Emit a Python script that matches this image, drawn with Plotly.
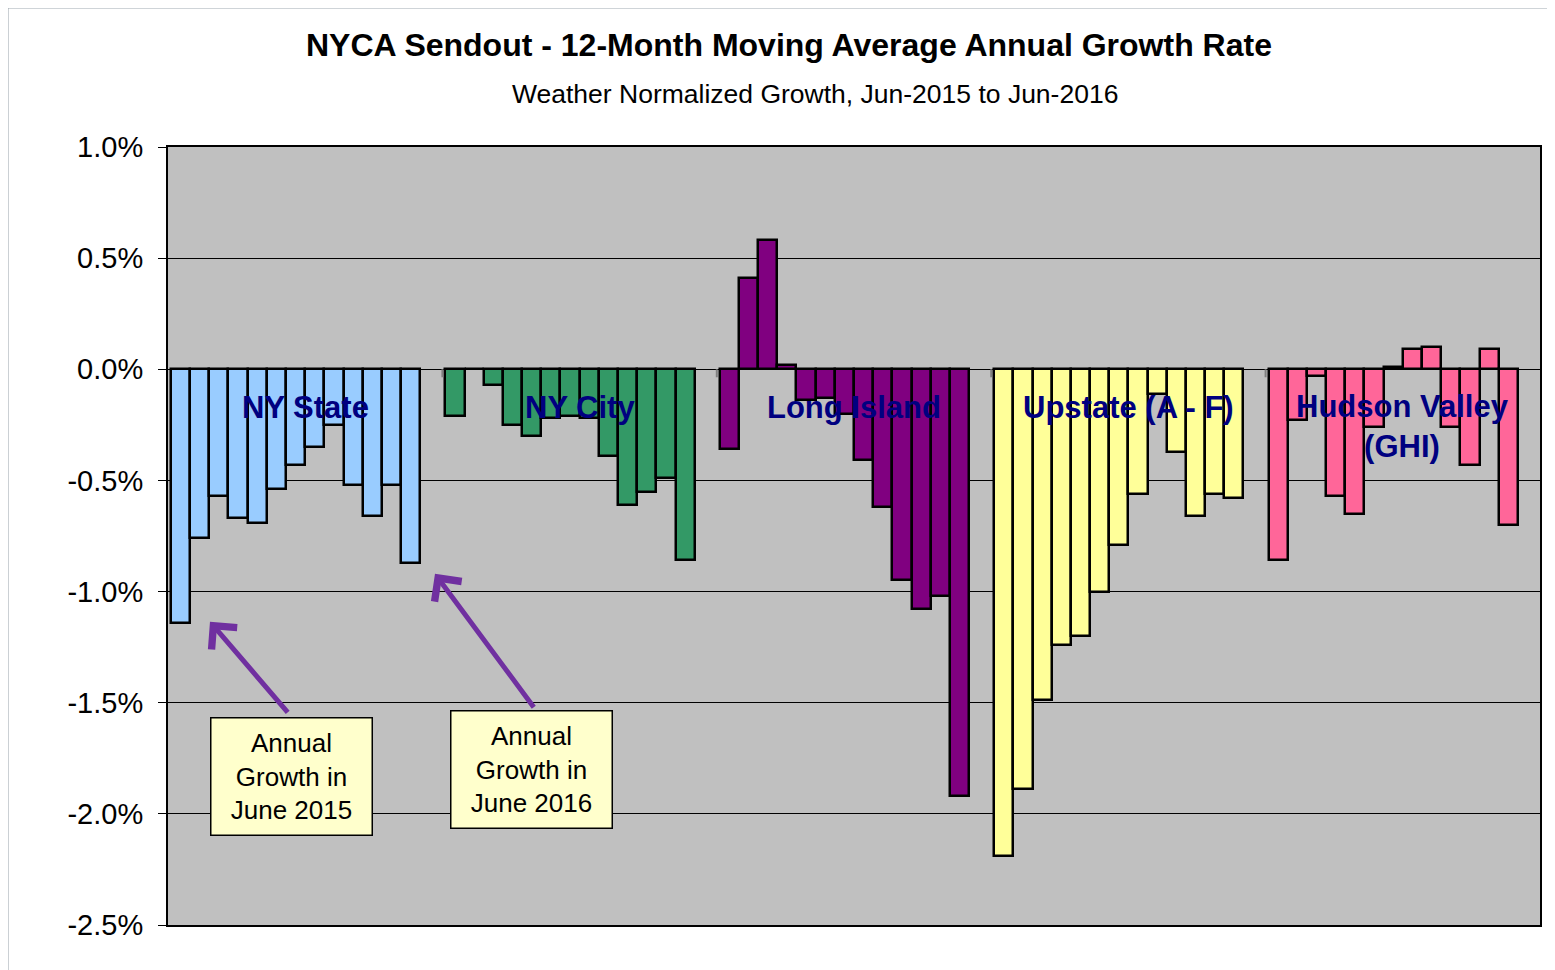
import plotly.graph_objects as go

# regions (x categories) and their bar colours
regions = ["NY State", "NY City", "Long Island", "Upstate (A - F)", "Hudson Valley<br>(GHI)"]
region_colors = ["#99CCFF", "#339966", "#800080", "#FFFF99", "#FF6699"]

# 12-month moving average annual growth (%), Jun-2015 .. Jun-2016
ny_state = [-1.14, -0.76, -0.57, -0.67, -0.69, -0.54, -0.43, -0.35, -0.25, -0.52, -0.66, -0.52, -0.87]
ny_city = [-0.21, 0.00, -0.07, -0.25, -0.30, -0.22, -0.21, -0.22, -0.39, -0.61, -0.55, -0.49, -0.86]
long_island = [-0.36, 0.41, 0.58, 0.02, -0.14, -0.13, -0.20, -0.41, -0.62, -0.95, -1.08, -1.02, -1.92]
upstate = [-2.19, -1.89, -1.49, -1.24, -1.20, -1.00, -0.79, -0.56, -0.11, -0.37, -0.66, -0.56, -0.58]
hudson_valley = [-0.86, -0.23, -0.03, -0.57, -0.65, -0.26, 0.01, 0.09, 0.10, -0.26, -0.43, 0.09, -0.70]

series = [ny_state, ny_city, long_island, upstate, hudson_valley]

tick_vals = [1.0, 0.5, 0.0, -0.5, -1.0, -1.5, -2.0, -2.5]
tick_text = ["1.0%", "0.5%", "0.0%", "-0.5%", "-1.0%", "-1.5%", "-2.0%", "-2.5%"]

FONT = "Arial, Liberation Sans, sans-serif"

# 13 months + one empty slot per region
slot = 0.0699
pad = (1 - 14 * slot) / 2

fig = go.Figure()

for g, vals in enumerate(series):
    xs = [g + pad + (i + 0.5) * slot for i in range(len(vals))]
    fig.add_trace(
        go.Bar(
            x=xs,
            y=vals,
            width=slot,
            marker={"color": region_colors[g], "line": {"color": "black", "width": 2.5}},
            name=regions[g].replace("<br>", " "),
            hovertemplate="%{y:.2f}%<extra></extra>",
        )
    )

# region labels inside the plot
for g, name in enumerate(regions):
    two_lines = "<br>" in name
    fig.add_annotation(
        x=g + 0.5,
        y=-0.256 if two_lines else -0.173,
        xref="x",
        yref="y",
        text="<b>%s</b>" % name,
        showarrow=False,
        yanchor="middle",
        font={"family": FONT, "size": 31, "color": "#000080"},
    )

# callouts
callouts = [
    {"text": "Annual<br>Growth in<br>June 2015", "x": 0.451, "y": -1.833,
     "head": (0.153, -1.136), "tail": (0.441, -1.55)},
    {"text": "Annual<br>Growth in<br>June 2016", "x": 1.325, "y": -1.802,
     "head": (0.973, -0.92), "tail": (1.337, -1.527)},
]
for c in callouts:
    fig.add_annotation(
        x=c["head"][0], y=c["head"][1], ax=c["tail"][0], ay=c["tail"][1],
        xref="x", yref="y", axref="x", ayref="y",
        text="", showarrow=True, arrowhead=4, arrowsize=1.3, arrowwidth=5,
        arrowcolor="#7030A0", standoff=0,
    )
    fig.add_annotation(
        x=c["x"], y=c["y"], xref="x", yref="y",
        text=c["text"], showarrow=False,
        width=158, height=114,
        bgcolor="#FFFFCC", bordercolor="black", borderwidth=1.5,
        font={"family": FONT, "size": 26, "color": "black"},
    )

# titles
fig.add_annotation(
    x=0.4523, y=1.131, xref="paper", yref="paper", showarrow=False,
    text="<b>NYCA Sendout - 12-Month Moving Average Annual Growth Rate</b>",
    font={"family": FONT, "size": 32, "color": "black"}, yanchor="middle",
)
fig.add_annotation(
    x=0.4716, y=1.068, xref="paper", yref="paper", showarrow=False,
    text="Weather Normalized Growth, Jun-2015 to Jun-2016",
    font={"family": FONT, "size": 26.5, "color": "black"}, yanchor="middle",
)

# small category tick marks on the zero line
for g in range(1, len(regions)):
    fig.add_shape(type="line", x0=g, x1=g, y0=0, y1=-0.036, xref="x", yref="y",
                  line={"color": "#808080", "width": 2})

# thin frame along the left / top edge of the chart area
fig.add_shape(type="line", xref="paper", yref="paper",
              x0=-0.1166, x1=-0.1166, y0=-0.06, y1=1.18,
              line={"color": "#9AA4AC", "width": 1})
fig.add_shape(type="line", xref="paper", yref="paper",
              x0=-0.1166, x1=1.02, y0=1.1787, y1=1.1787,
              line={"color": "#9AA4AC", "width": 1})

# page body keeps an 8px margin, so the figure is 8px smaller
fig.update_layout(
    width=1547,
    height=962,
    autosize=False,
    margin=dict(l=160, r=15, t=139, b=45),
    paper_bgcolor="white",
    plot_bgcolor="#C0C0C0",
    showlegend=False,
    bargap=0,
    font={"family": FONT, "color": "black"},
    xaxis=dict(
        range=[0, 5], showticklabels=False, ticks="", showgrid=False, zeroline=False,
        showline=True, mirror=True, linecolor="black", linewidth=2,
    ),
    yaxis=dict(
        range=[-2.5, 1.0], tickvals=tick_vals, ticktext=tick_text,
        ticks="outside", ticklen=8, tickcolor="black", tickwidth=1,
        ticklabelstandoff=9,
        tickfont={"family": FONT, "size": 29, "color": "black"},
        showgrid=True, gridcolor="black", gridwidth=1,
        zeroline=True, zerolinecolor="black", zerolinewidth=1,
        showline=True, mirror=True, linecolor="black", linewidth=2,
    ),
)

fig.write_html("out.html")
